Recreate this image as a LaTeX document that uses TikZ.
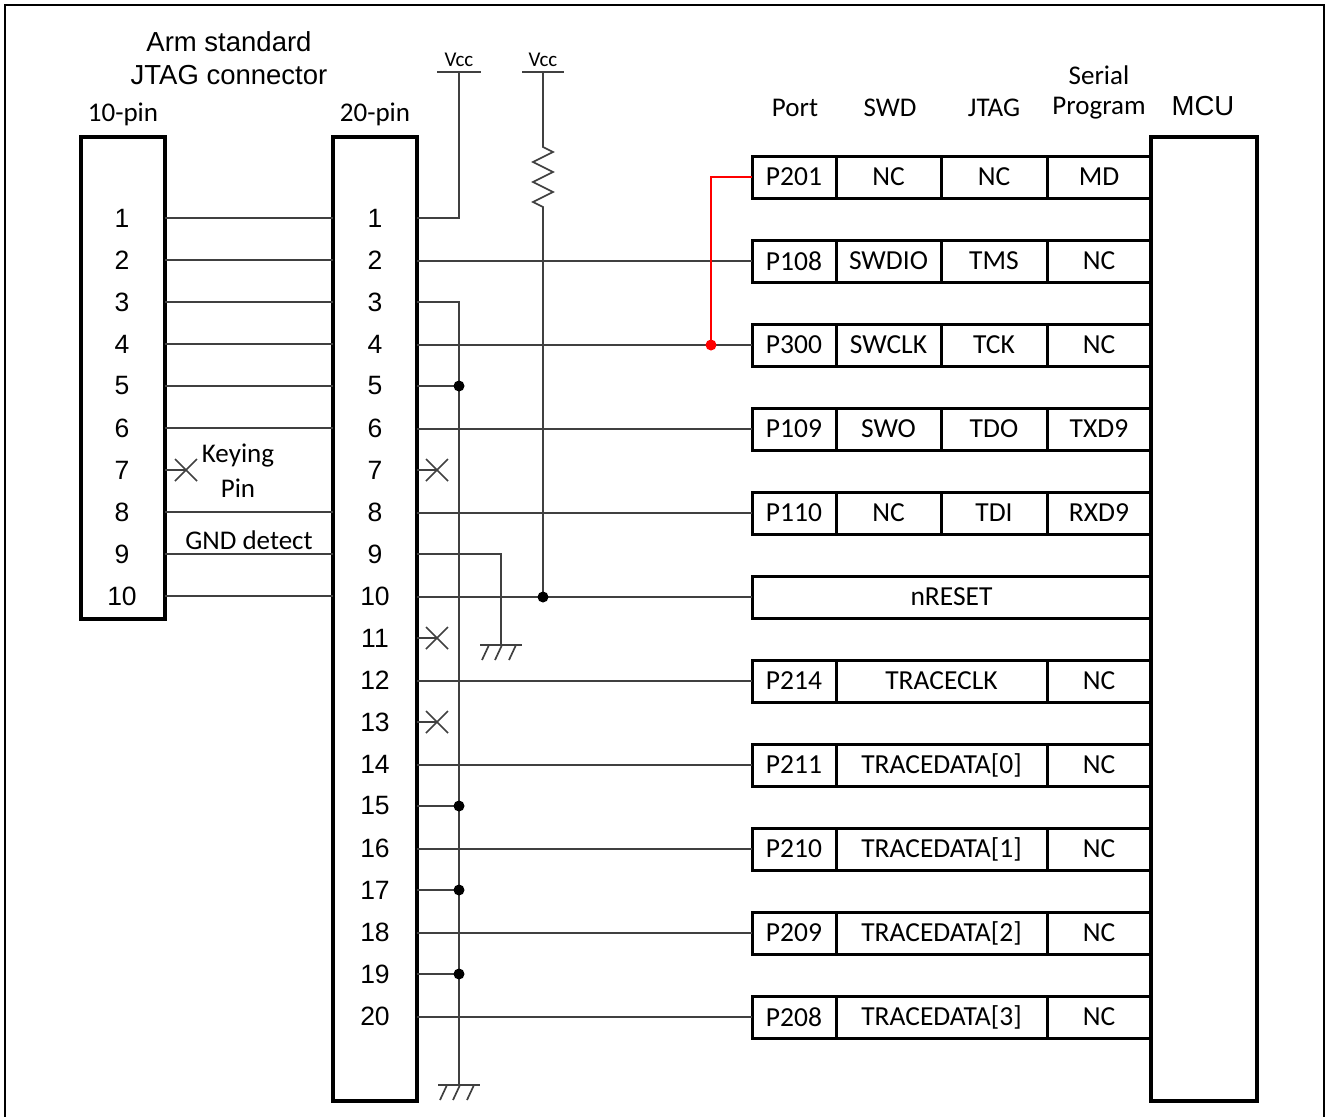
\documentclass[tikz,border=0pt]{standalone}
\usepackage{fontspec}
\setmainfont{Carlito}
\newfontfamily\arialf{Liberation Sans}
\begin{document}
\begin{tikzpicture}[x=1pt,y=-1pt,
  wire/.style={draw=black!75,line width=1.7pt},
  conn/.style={draw=black,line width=4.5pt,inner sep=0pt,outer sep=0pt},
  cell/.style={draw=black,line width=3pt,inner sep=0pt,outer sep=0pt,minimum height=42pt,font=\fontsize{27.5}{31}\selectfont},
  pinnum/.style={inner sep=0pt,font=\arialf\fontsize{26.5}{30}\selectfont},
  lblA/.style={inner sep=0pt,font=\arialf\fontsize{27.5}{31}\selectfont},
  lblC/.style={inner sep=0pt,font=\fontsize{27}{30}\selectfont},
  vcclbl/.style={inner sep=0pt,font=\fontsize{21}{24}\selectfont}]
\useasboundingbox (0,0) rectangle (1326,1117);
% frame
\draw[line width=2.5pt] (5,1130) -- (5,5) -- (1324,5) -- (1324,1130);

% connectors and MCU
\node[conn,minimum width=84pt,minimum height=482pt] (c10) at (123,378) {};
\node[conn,minimum width=84pt,minimum height=964pt] (c20) at (375,619) {};
\node[conn,minimum width=106pt,minimum height=964pt] (mcu) at (1204,619) {};

% titles
\node[lblA] (t1) at (229,42) {Arm standard};
\node[lblA] (t2) at (229,75) {JTAG connector};
\node[lblC] (h10) at (123,114) {10-pin};
\node[lblC] (h20) at (375,114) {20-pin};
\node[lblC] (hport) at (795,108) {Port};
\node[lblC] (hswd) at (890,108) {SWD};
\node[lblC] (hjtag) at (994,108) {JTAG};
\node[lblC] (hser) at (1099,75) {Serial};
\node[lblC] (hprog) at (1099,108) {Program};
\node[lblA] (hmcu) at (1203,106) {MCU};

% pin numbers
\foreach \i in {1,...,10}{
  \pgfmathsetmacro\yy{218+42*(\i-1)}
  \node[pinnum] (a\i) at (122,\yy) {\i};
}
\foreach \i in {1,...,20}{
  \pgfmathsetmacro\yy{218+42*(\i-1)}
  \node[pinnum] (b\i) at (375,\yy) {\i};
}

% 10-pin to 20-pin wires
\foreach \i in {1,2,3,4,5,6,8,9,10}{
  \draw[wire] (c10.east |- a\i) -- (c20.west |- b\i);
}
% keying pin
\coordinate (xk) at (186,470);
\draw[wire] (c10.east |- a7) -- (xk);
\draw[wire] ([shift={(-11,-11)}]xk) -- ([shift={(11,11)}]xk);
\draw[wire] ([shift={(-11,11)}]xk) -- ([shift={(11,-11)}]xk);
\node[lblC] (key1) at (238,456) {Keying};
\node[lblC] (key2) at (238,488) {Pin};
\node[lblC] (gndd) at (249,540) {GND detect};

% table
\newcommand\rowfour[6]{%
  \node[cell,minimum width=84pt] (#1p) at (794,#2) {#3};
  \node[cell,minimum width=105pt] (#1s) at (888.5,#2) {#4};
  \node[cell,minimum width=106pt] (#1j) at (994,#2) {#5};
  \node[cell,minimum width=104pt] (#1r) at (1099,#2) {#6};}
\newcommand\rowthree[4]{%
  \node[cell,minimum width=84pt] (#1p) at (794,#2) {#3};
  \node[cell,minimum width=211pt] (#1s) at (941.5,#2) {#4};
  \node[cell,minimum width=104pt] (#1r) at (1099,#2) {NC};}
\rowfour{r0}{177}{P201}{NC}{NC}{MD}
\rowfour{r1}{261}{P108}{SWDIO}{TMS}{NC}
\rowfour{r2}{345}{P300}{SWCLK}{TCK}{NC}
\rowfour{r3}{429}{P109}{SWO}{TDO}{TXD9}
\rowfour{r4}{513}{P110}{NC}{TDI}{RXD9}
\node[cell,minimum width=399pt] (r5p) at (951.5,597) {nRESET};
\rowthree{r6}{681}{P214}{TRACECLK}
\rowthree{r7}{765}{P211}{TRACEDATA[0]}
\rowthree{r8}{849}{P210}{TRACEDATA[1]}
\rowthree{r9}{933}{P209}{TRACEDATA[2]}
\rowthree{r10}{1017}{P208}{TRACEDATA[3]}
% redraw MCU border on top
\node[conn,minimum width=106pt,minimum height=964pt] at (1204,619) {};

% Vcc 1
\coordinate (vcc1) at (459,72);
\draw[wire] ([xshift=-22pt]vcc1) -- ([xshift=22pt]vcc1);
\node[vcclbl] (v1) at (459,60) {Vcc};
\draw[wire] (c20.east |- b1) -| (vcc1);

% Vcc 2 with resistor
\coordinate (vcc2) at (543,72);
\coordinate (rtop) at (543,147);
\coordinate (rbot) at (543,210);
\coordinate (jres) at (543,597);
\draw[wire] ([xshift=-21pt]vcc2) -- ([xshift=21pt]vcc2);
\node[vcclbl] (v2) at (543,60) {Vcc};
\draw[wire,line join=miter] (vcc2) -- (rtop) -- ++(10,5) -- ++(-20,10) -- ++(20,10) -- ++(-20,10) -- ++(20,10) -- ++(-20,10) -- ++(10,5) -- (rbot) -- (jres);

% ground bus
\coordinate (gndA) at (459,1085);
\draw[wire] (c20.east |- b3) -| (gndA);
\foreach \i in {5,15,17,19}{
  \draw[wire] (c20.east |- b\i) -- (gndA |- b\i);
  \fill (gndA |- b\i) circle (5.5);
}
\draw[wire] ([xshift=-21pt]gndA) -- ([xshift=21pt]gndA);
\foreach \dx in {-12,1,15}{
  \draw[wire] ([xshift=\dx pt]gndA) -- ([xshift=\dx pt-7pt,yshift=-15pt]gndA);
}

% pin 9 ground
\coordinate (gndB) at (501,645);
\draw[wire] (c20.east |- b9) -| (gndB);
\draw[wire] ([xshift=-21pt]gndB) -- ([xshift=21pt]gndB);
\foreach \dx in {-12,1,15}{
  \draw[wire] ([xshift=\dx pt]gndB) -- ([xshift=\dx pt-7pt,yshift=-15pt]gndB);
}

% no-connect pins
\foreach \i in {7,11,13}{
  \coordinate (xm\i) at (437,{218+42*(\i-1)});
  \draw[wire] (c20.east |- b\i) -- (xm\i);
  \draw[wire] ([shift={(-11,-11)}]xm\i) -- ([shift={(11,11)}]xm\i);
  \draw[wire] ([shift={(-11,11)}]xm\i) -- ([shift={(11,-11)}]xm\i);
}

% signal wires to table
\draw[wire] (c20.east |- r1p.west) -- (r1p.west);
\draw[wire] (c20.east |- r2p.west) -- (r2p.west);
\draw[wire] (c20.east |- r3p.west) -- (r3p.west);
\draw[wire] (c20.east |- r4p.west) -- (r4p.west);
\draw[wire] (c20.east |- r5p.west) -- (r5p.west);
\fill (jres) circle (5.5);
\draw[wire] (c20.east |- r6p.west) -- (r6p.west);
\draw[wire] (c20.east |- r7p.west) -- (r7p.west);
\draw[wire] (c20.east |- r8p.west) -- (r8p.west);
\draw[wire] (c20.east |- r9p.west) -- (r9p.west);
\draw[wire] (c20.east |- r10p.west) -- (r10p.west);

% MD red connection
\coordinate (jred) at (711,345);
\draw[red,line width=1.7pt] (jred) |- (r0p.west);
\fill[red] (jred) circle (5.5);
\end{tikzpicture}
\end{document}
